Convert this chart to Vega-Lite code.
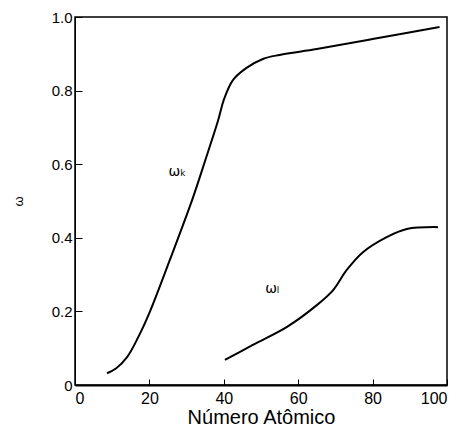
{
  "$schema": "https://vega.github.io/schema/vega-lite/v6.json",
  "width": 372,
  "height": 368,
  "autosize": {"type": "none"},
  "padding": {"left": 75, "top": 17, "right": 13, "bottom": 47},
  "background": "white",
  "config": {
    "view": {"stroke": "black", "strokeWidth": 1.5},
    "font": "Liberation Sans",
    "axis": {"grid": false, "domainColor": "black", "tickColor": "black", "labelColor": "black", "titleColor": "black", "domainWidth": 2}
  },
  "datasets": {
    "curves": [
      {"Z": 8.6, "w": 0.032, "s": "K"},
      {"Z": 11, "w": 0.045, "s": "K"},
      {"Z": 14, "w": 0.076, "s": "K"},
      {"Z": 17, "w": 0.13, "s": "K"},
      {"Z": 20, "w": 0.196, "s": "K"},
      {"Z": 25.5, "w": 0.34, "s": "K"},
      {"Z": 31.5, "w": 0.503, "s": "K"},
      {"Z": 35, "w": 0.61, "s": "K"},
      {"Z": 38.5, "w": 0.72, "s": "K"},
      {"Z": 40, "w": 0.775, "s": "K"},
      {"Z": 42.5, "w": 0.829, "s": "K"},
      {"Z": 46, "w": 0.861, "s": "K"},
      {"Z": 50.5, "w": 0.886, "s": "K"},
      {"Z": 55, "w": 0.897, "s": "K"},
      {"Z": 65, "w": 0.913, "s": "K"},
      {"Z": 80, "w": 0.94, "s": "K"},
      {"Z": 98, "w": 0.973, "s": "K"},
      {"Z": 40.3, "w": 0.068, "s": "L"},
      {"Z": 47.8, "w": 0.109, "s": "L"},
      {"Z": 57, "w": 0.158, "s": "L"},
      {"Z": 65, "w": 0.217, "s": "L"},
      {"Z": 69.4, "w": 0.258, "s": "L"},
      {"Z": 73, "w": 0.312, "s": "L"},
      {"Z": 77.4, "w": 0.361, "s": "L"},
      {"Z": 83.8, "w": 0.402, "s": "L"},
      {"Z": 89.2, "w": 0.424, "s": "L"},
      {"Z": 97.6, "w": 0.429, "s": "L"}
    ],
    "labels": [
      {"Z": 27.5, "w": 0.58, "t": "ωₖ"},
      {"Z": 53, "w": 0.26, "t": "ωₗ"}
    ]
  },
  "layer": [
    {
      "data": {"name": "curves"},
      "mark": {"type": "line", "color": "black", "strokeWidth": 2, "interpolate": "catmull-rom"},
      "encoding": {
        "x": {"field": "Z", "type": "quantitative", "scale": {"domain": [0, 100], "nice": false},
          "axis": {"values": [0, 20, 40, 60, 80, 100], "tickSize": -6, "labelPadding": 11, "labelFontSize": 16, "title": "Número Atômico", "titleFontSize": 20, "titleFontWeight": "normal", "titlePadding": 1}},
        "y": {"field": "w", "type": "quantitative", "scale": {"domain": [0, 1], "nice": false},
          "axis": {"values": [0, 0.2, 0.4, 0.6, 0.8, 1.0], "tickSize": -7, "labelPadding": 10, "labelFontSize": 15, "labelExpr": "datum.value == 0 ? '0' : format(datum.value, '.1f')", "title": "ω", "titleFontSize": 13, "titleFontWeight": "normal", "titlePadding": 26, "domainWidth": 1}},
        "detail": {"field": "s"}
      }
    },
    {
      "data": {"name": "labels"},
      "mark": {"type": "text", "fontSize": 14, "color": "black", "font": "DejaVu Sans"},
      "encoding": {
        "x": {"field": "Z", "type": "quantitative"},
        "y": {"field": "w", "type": "quantitative"},
        "text": {"field": "t"}
      }
    }
  ]
}
